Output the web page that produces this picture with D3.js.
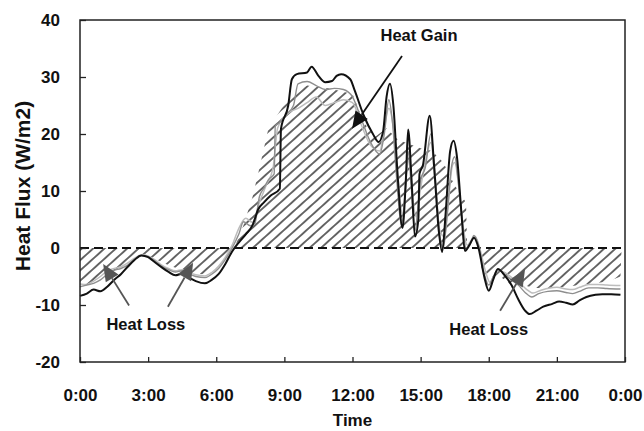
<!DOCTYPE html>
<html>
<head>
<meta charset="utf-8">
<script src="https://cdn.jsdelivr.net/npm/d3@7"></script>
<style>
  body { margin: 0; background: #fff; }
  text { font-family: "Liberation Sans", Arial, sans-serif; font-weight: bold; fill: #111; }
</style>
</head>
<body>
<div id="chart"></div>
<script>
// hours since midnight, heat flux in W/m2
const blackLine = [[0,-8.4],[0.3,-8.0],[0.6,-7.3],[0.9,-7.6],[1.2,-6.8],[1.5,-5.6],[1.8,-4.6],[2.1,-3.3],[2.4,-2.1],[2.7,-1.3],
  [3.0,-1.6],[3.3,-2.5],[3.6,-3.4],[3.9,-4.2],[4.2,-4.8],[4.5,-4.5],[4.8,-5.2],[5.1,-5.8],[5.5,-6.2],[5.8,-5.6],
  [6.1,-4.6],[6.4,-2.8],[6.7,-0.6],[7.0,1.0],[7.3,2.4],[7.6,4.0],[7.85,6.8],[8.1,8.0],[8.4,9.2],[8.8,10.4],
  [8.85,20.9],[9.17,25.0],[9.33,29.6],[9.55,30.5],[10.0,30.8],[10.2,31.8],[10.5,30.2],[10.8,29.1],[11.1,29.3],[11.3,30.2],
  [11.5,30.5],[11.9,29.6],[12.1,27.6],[12.5,23.2],[12.9,20.0],[13.15,18.6],[13.35,20.5],[13.5,26.5],[13.65,28.8],[13.8,25.0],
  [14.0,12.0],[14.2,3.5],[14.35,12.0],[14.45,20.8],[14.6,12.0],[14.75,2.0],[14.9,5.0],[14.95,13.0],[15.1,14.5],[15.4,23.2],
  [15.6,14.0],[15.8,3.0],[15.95,-0.7],[16.1,6.0],[16.3,17.0],[16.45,18.8],[16.6,16.0],[16.8,6.0],[16.95,-0.5],[17.15,0.5],
  [17.35,1.8],[17.55,0.0],[17.8,-5.0],[18.0,-7.5],[18.2,-5.5],[18.4,-3.7],[18.7,-4.8],[19.0,-6.5],[19.3,-9.0],[19.6,-11.0],
  [19.8,-11.6],[20.1,-11.0],[20.4,-10.3],[20.8,-9.8],[21.1,-9.4],[21.4,-9.6],[21.7,-9.9],[22.0,-9.2],[22.3,-8.6],[22.7,-8.2],
  [23.0,-8.1],[23.4,-8.1],[23.8,-8.2]];

const grayLineA = [[0,-6.8],[0.3,-6.5],[0.6,-6.2],[0.9,-5.6],[1.2,-4.6],[1.5,-3.9],[1.8,-3.6],[2.1,-3.0],[2.4,-2.0],[2.7,-1.3],
  [3.0,-1.5],[3.3,-2.3],[3.6,-3.2],[3.9,-3.8],[4.2,-4.2],[4.5,-4.0],[4.8,-4.6],[5.1,-5.0],[5.5,-5.2],[5.8,-4.6],
  [6.1,-3.6],[6.4,-2.0],[6.7,0.0],[7.0,2.5],[7.2,4.6],[7.5,3.9],[7.7,4.3],[7.9,9.0],[8.1,10.5],[8.3,12.0],
  [8.55,13.0],[8.6,21.4],[8.8,22.0],[9.1,23.5],[9.4,25.0],[9.6,28.8],[10.0,29.2],[10.4,28.5],[10.8,27.8],[11.2,28.0],
  [11.6,27.8],[12.0,26.5],[12.4,22.5],[12.8,18.5],[13.2,16.5],[13.4,20.0],[13.6,26.0],[13.75,22.5],[13.95,12.0],[14.15,4.0],
  [14.35,11.0],[14.45,17.0],[14.6,10.0],[14.75,3.0],[14.9,8.0],[15.0,12.0],[15.2,14.0],[15.45,20.0],[15.65,12.0],[15.85,2.0],
  [16.0,0.0],[16.15,5.0],[16.35,14.0],[16.5,16.0],[16.65,12.0],[16.85,4.0],[17.0,0.0],[17.2,1.0],[17.35,2.2],[17.55,0.5],
  [17.8,-4.5],[18.0,-6.5],[18.2,-5.0],[18.4,-3.8],[18.7,-4.6],[19.0,-5.6],[19.3,-6.5],[19.6,-7.8],[19.9,-8.6],[20.2,-8.0],
  [20.6,-7.6],[21.0,-7.5],[21.4,-7.8],[21.7,-8.0],[22.0,-7.6],[22.4,-7.0],[22.8,-7.0],[23.2,-7.1],[23.8,-7.2]];

const grayLineB = [[0,-6.3],[0.3,-6.4],[0.6,-5.8],[0.9,-5.0],[1.2,-4.0],[1.5,-3.6],[1.8,-3.3],[2.1,-2.6],[2.4,-1.8],[2.7,-1.2],
  [3.0,-1.4],[3.3,-2.1],[3.6,-3.0],[3.9,-3.6],[4.2,-4.0],[4.5,-3.8],[4.8,-4.3],[5.1,-4.7],[5.5,-4.9],[5.8,-4.3],
  [6.1,-3.2],[6.4,-1.6],[6.7,0.5],[7.0,3.5],[7.3,5.2],[7.6,4.5],[7.9,8.0],[8.2,11.0],[8.5,14.0],[8.7,21.0],
  [9.0,23.0],[9.3,24.0],[9.6,24.5],[10.0,25.5],[10.4,26.5],[10.8,25.0],[11.2,25.5],[11.6,26.0],[12.0,25.5],[12.4,21.5],
  [12.8,18.0],[13.2,17.0],[13.4,21.0],[13.6,24.5],[13.8,21.0],[14.0,12.5],[14.2,6.0],[14.4,14.0],[14.5,15.5],[14.65,9.0],
  [14.8,5.5],[15.0,10.5],[15.2,15.0],[15.45,18.5],[15.65,11.0],[15.85,3.0],[16.05,2.0],[16.2,7.0],[16.4,14.5],[16.5,15.0],
  [16.7,10.0],[16.9,3.0],[17.05,0.5],[17.25,1.5],[17.4,2.0],[17.6,0.0],[17.85,-4.0],[18.05,-6.0],[18.25,-4.8],[18.45,-3.9],
  [18.75,-4.4],[19.05,-5.3],[19.35,-6.1],[19.65,-7.2],[19.95,-7.9],[20.3,-7.4],[20.7,-7.0],[21.0,-6.9],[21.4,-7.2],[21.7,-7.3],
  [22.0,-6.9],[22.4,-6.4],[22.8,-6.4],[23.2,-6.5],[23.8,-6.6]];

// outline of the hatched heat gain / heat loss areas
const hatchEdge = [[0,-7],[0.5,-6],[1,-5],[1.5,-4],[2,-3],[2.5,-1.5],[3,-1.3],[3.5,-2.3],[4,-3.2],[4.5,-3.8],
  [5,-4.5],[5.5,-4.6],[6,-3.2],[6.5,-1.2],[6.8,0],[7.2,4],[7.6,9],[7.9,14],[8.3,21],[8.8,24],
  [9.3,27],[10,28.5],[11,28],[12,27],[12.5,22],[13,19.5],[13.5,21],[14,19],[15,17.5],[15.5,17],
  [16,15],[16.5,11],[17.0,8],[17.05,0],[17.6,0],[17.7,-4.2],[18,-5],[18.5,-5],[19,-6.5],[19.5,-6.5],
  [20,-7],[21,-7],[22,-6.5],[23,-6],[23.5,-5.5],[23.8,-5],[23.85,0]];

const xTicks = [0, 3, 6, 9, 12, 15, 18, 21, 24];
const xTickLabels = ["0:00", "3:00", "6:00", "9:00", "12:00", "15:00", "18:00", "21:00", "0:00"];
const yTicks = [-20, -10, 0, 10, 20, 30, 40];

// annotations: label position and arrow from -> tip, in hours / W/m2
const labels = [
  { text: "Heat Gain", at: [14.93, 36.3] },
  { text: "Heat Loss", at: [2.9, -14.3] },
  { text: "Heat Loss", at: [18.0, -15.2] }
];
const arrows = [
  { from: [14.18, 33.7], tip: [11.98, 20.9], color: "#111" },
  { from: [2.16, -10.1], tip: [1.02, -2.8], color: "#555" },
  { from: [3.87, -10.3], tip: [4.98, -2.6], color: "#555" },
  { from: [18.5, -11.0], tip: [19.6, -3.7], color: "#555" }
];

const width = 644, height = 431;
const margin = { top: 20, right: 19, bottom: 69, left: 80 };

const svg = d3.select("#chart").append("svg")
  .attr("width", width)
  .attr("height", height);

const x = d3.scaleLinear().domain([0, 24]).range([margin.left, width - margin.right]);
const y = d3.scaleLinear().domain([-20, 40]).range([height - margin.bottom, margin.top]);

const defs = svg.append("defs");
const pat = defs.append("pattern")
  .attr("id", "hatch")
  .attr("patternUnits", "userSpaceOnUse")
  .attr("width", 20)
  .attr("height", 7.6)
  .attr("patternTransform", "rotate(-42)");
pat.append("line")
  .attr("x1", -2).attr("x2", 22)
  .attr("y1", 3.8).attr("y2", 3.8)
  .attr("stroke", "#1a1a1a")
  .attr("stroke-width", 1.3);

// hatched areas
const area = d3.area()
  .x(d => x(d[0]))
  .y0(y(0))
  .y1(d => y(d[1]));
svg.append("path")
  .datum(hatchEdge)
  .attr("d", area)
  .attr("fill", "url(#hatch)");

// zero line
svg.append("line")
  .attr("x1", x(0)).attr("x2", x(24))
  .attr("y1", y(0)).attr("y2", y(0))
  .attr("stroke", "#111")
  .attr("stroke-width", 2.2)
  .attr("stroke-dasharray", "9,5");

const line = d3.line()
  .x(d => x(d[0]))
  .y(d => y(d[1]))
  .curve(d3.curveMonotoneX);

svg.append("path").datum(grayLineB).attr("d", line)
  .attr("fill", "none").attr("stroke", "#bdbdbd").attr("stroke-width", 1.5);
svg.append("path").datum(grayLineA).attr("d", line)
  .attr("fill", "none").attr("stroke", "#8e8e8e").attr("stroke-width", 1.4);
svg.append("path").datum(blackLine).attr("d", line)
  .attr("fill", "none").attr("stroke", "#111").attr("stroke-width", 2);

// frame
svg.append("rect")
  .attr("x", x(0)).attr("y", y(40))
  .attr("width", x(24) - x(0))
  .attr("height", y(-20) - y(40))
  .attr("fill", "none")
  .attr("stroke", "#222")
  .attr("stroke-width", 1.5);

// axes with inward ticks
const xAxis = svg.append("g")
  .attr("transform", "translate(0," + y(-20) + ")")
  .call(d3.axisBottom(x).tickValues(xTicks).tickSizeInner(-5).tickSizeOuter(0)
    .tickFormat((d, i) => xTickLabels[i]).tickPadding(27));
xAxis.select(".domain").remove();
xAxis.selectAll(".tick line").attr("stroke", "#222").attr("stroke-width", 1.3);
xAxis.selectAll("text").style("font-size", "17px").attr("fill", "#111");

const yAxis = svg.append("g")
  .attr("transform", "translate(" + x(0) + ",0)")
  .call(d3.axisLeft(y).tickValues(yTicks).tickSizeInner(-6).tickSizeOuter(0).tickPadding(20)
    .tickFormat(d => String(d)));
yAxis.select(".domain").remove();
yAxis.selectAll(".tick line").attr("stroke", "#222").attr("stroke-width", 1.3);
yAxis.selectAll("text").style("font-size", "17px").attr("fill", "#111");

svg.append("text")
  .attr("transform", "translate(30," + ((y(40) + y(-20)) / 2 - 5) + ") rotate(-90)")
  .attr("text-anchor", "middle")
  .style("font-size", "21px")
  .text("Heat Flux (W/m2)");

svg.append("text")
  .attr("x", (x(0) + x(24)) / 2)
  .attr("y", height - 5)
  .attr("text-anchor", "middle")
  .style("font-size", "17px")
  .text("Time");

// annotations
svg.selectAll(".note")
  .data(labels)
  .enter().append("text")
  .attr("class", "note")
  .attr("x", d => x(d.at[0]))
  .attr("y", d => y(d.at[1]))
  .attr("text-anchor", "middle")
  .style("font-size", "16.5px")
  .text(d => d.text);

arrows.forEach(a => {
  const x0 = x(a.from[0]), y0 = y(a.from[1]);
  const x1 = x(a.tip[0]), y1 = y(a.tip[1]);
  const dx = x1 - x0, dy = y1 - y0;
  const len = Math.sqrt(dx * dx + dy * dy);
  const ux = dx / len, uy = dy / len;
  const headLen = 17, headW = 7.5;
  const bx = x1 - ux * headLen, by = y1 - uy * headLen;
  svg.append("line")
    .attr("x1", x0).attr("y1", y0)
    .attr("x2", bx).attr("y2", by)
    .attr("stroke", a.color)
    .attr("stroke-width", 1.8);
  svg.append("path")
    .attr("d", "M" + x1 + "," + y1 +
      "L" + (bx - uy * headW) + "," + (by + ux * headW) +
      "L" + (bx + uy * headW) + "," + (by - ux * headW) + "Z")
    .attr("fill", a.color);
});
</script>
</body>
</html>
